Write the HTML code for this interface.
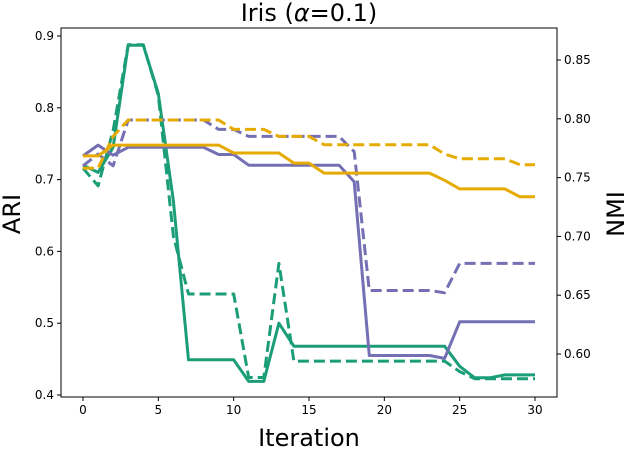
<!DOCTYPE html>
<html><head><meta charset="utf-8"><style>
body{margin:0;background:#fff;}
svg text{font-family:"DejaVu Sans","Liberation Sans",sans-serif;fill:#000;}
</style></head><body>
<svg id="chart" width="627" height="451" xmlns="http://www.w3.org/2000/svg">
<text x="309" y="21" font-size="24" text-anchor="middle">Iris (<tspan font-style="italic">α</tspan>=0.1)</text>
<g id="plot"></g>
<text x="309" y="446" font-size="24" text-anchor="middle">Iteration</text>
<text transform="translate(20,214) rotate(-90)" font-size="24" text-anchor="middle">ARI</text>
<text transform="translate(624,214) rotate(-90)" font-size="24" text-anchor="middle">NMI</text>
</svg>
<script>
const iterations=[0,1,2,3,4,5,6,7,8,9,10,11,12,13,14,15,16,17,18,19,20,21,22,23,24,25,26,27,28,29,30];
const greenARI=[0.72,0.71,0.745,0.887,0.887,0.82,0.67,0.449,0.449,0.449,0.449,0.419,0.419,0.50,0.468,0.468,0.468,0.468,0.468,0.468,0.468,0.468,0.468,0.468,0.468,0.44,0.424,0.424,0.428,0.428,0.428];
const greenNMI=[0.758,0.743,0.79,0.863,0.863,0.82,0.70,0.651,0.651,0.651,0.651,0.58,0.58,0.677,0.594,0.594,0.594,0.594,0.594,0.594,0.594,0.594,0.594,0.594,0.594,0.585,0.579,0.579,0.579,0.579,0.579];
const purpleARI=[0.733,0.748,0.734,0.745,0.745,0.745,0.745,0.745,0.745,0.735,0.735,0.72,0.72,0.72,0.72,0.72,0.72,0.72,0.697,0.455,0.455,0.455,0.455,0.455,0.451,0.502,0.502,0.502,0.502,0.502,0.502];
const purpleNMI=[0.76,0.77,0.76,0.799,0.799,0.799,0.799,0.799,0.799,0.791,0.791,0.785,0.785,0.785,0.785,0.785,0.785,0.785,0.772,0.654,0.654,0.654,0.654,0.654,0.652,0.677,0.677,0.677,0.677,0.677,0.677];
const yellowARI=[0.733,0.733,0.748,0.748,0.748,0.748,0.748,0.748,0.748,0.748,0.737,0.737,0.737,0.737,0.723,0.723,0.709,0.709,0.709,0.709,0.709,0.709,0.709,0.709,0.699,0.687,0.687,0.687,0.687,0.676,0.676];
const yellowNMI=[0.758,0.758,0.785,0.799,0.799,0.799,0.799,0.799,0.799,0.799,0.791,0.791,0.791,0.785,0.785,0.785,0.778,0.778,0.778,0.778,0.778,0.778,0.778,0.778,0.77,0.766,0.766,0.766,0.766,0.761,0.761];
const xTicks=[0,5,10,15,20,25,30];
const leftTicks=[0.4,0.5,0.6,0.7,0.8,0.9];
const rightTicks=[0.60,0.65,0.70,0.75,0.80,0.85];
const L=61,R=557,T=28,B=397;
const xs=v=>83+v*(535-83)/30;
const yL=v=>36+(0.9-v)*718;
const yR=v=>60+(0.85-v)*1176;
const NS="http://www.w3.org/2000/svg";
const g=document.getElementById('plot');
function mk(t,a){const e=document.createElementNS(NS,t);for(const k in a)e.setAttribute(k,a[k]);g.appendChild(e);return e;}
const series=[
 ['green-ari',greenARI,yL,'#1b9e77',false],['green-nmi',greenNMI,yR,'#1b9e77',true],
 ['purple-ari',purpleARI,yL,'#7570b3',false],['purple-nmi',purpleNMI,yR,'#7570b3',true],
 ['yellow-ari',yellowARI,yL,'#e6ab02',false],['yellow-nmi',yellowNMI,yR,'#e6ab02',true]];
series.forEach(s=>{
 const pts=s[1].map((v,i)=>xs(iterations[i]).toFixed(1)+','+s[2](v).toFixed(1)).join(' ');
 const p=mk('polyline',{points:pts,fill:'none',stroke:s[3],'stroke-width':3,'stroke-linejoin':'round'});
 if(s[4])p.setAttribute('stroke-dasharray','11,5');
 
 
});
const fr=mk('rect',{x:L,y:T,width:R-L,height:B-T,fill:'none',stroke:'#000','stroke-width':1});


xTicks.forEach(v=>{
 mk('line',{x1:xs(v),x2:xs(v),y1:B,y2:B+4,stroke:'#000'});
 const t=mk('text',{x:xs(v),y:B+17,'font-size':12,'text-anchor':'middle'});t.textContent=v;
 
 
});
leftTicks.forEach(v=>{
 mk('line',{x1:L-4,x2:L,y1:yL(v),y2:yL(v),stroke:'#000'});
 const t=mk('text',{x:L-7,y:yL(v)+4,'font-size':12,'text-anchor':'end'});t.textContent=v.toFixed(1);
 
 
});
rightTicks.forEach(v=>{
 mk('line',{x1:R,x2:R+4,y1:yR(v),y2:yR(v),stroke:'#000'});
 const t=mk('text',{x:R+7,y:yR(v)+4,'font-size':12,'text-anchor':'start'});t.textContent=v.toFixed(2);
 
 
});
</script>
</body></html>
